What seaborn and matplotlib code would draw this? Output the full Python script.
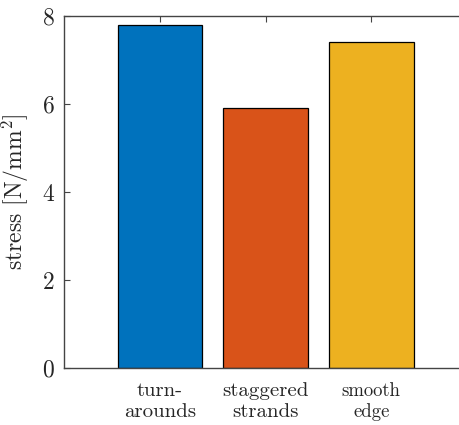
import matplotlib
matplotlib.use("Agg")
import matplotlib.pyplot as plt
import seaborn as sns
import pandas as pd

categories = ["turn-\narounds", "staggered\nstrands", "smooth\nedge"]
stress = [7.8, 5.9, 7.4]
colors = ["#0072BD", "#D95319", "#EDB120"]
yticks = [0, 2, 4, 6, 8]

df = pd.DataFrame({"category": categories, "stress": stress})

sns.set_style("white")
plt.rcParams["font.family"] = ["cmr10", "DejaVu Serif"]
plt.rcParams["mathtext.fontset"] = "cm"
plt.rcParams["axes.formatter.use_mathtext"] = True

fig = plt.figure(figsize=(4.6, 4.25), dpi=100)
ax = fig.add_axes([64 / 460, 57 / 425, 396 / 460, 352 / 425])

sns.barplot(data=df, x="category", y="stress", hue="category", palette=colors,
            width=0.8, edgecolor="black", linewidth=0.9, legend=False, ax=ax,
            saturation=1)

ax.set_ylim(0, 8)
ax.set_xlim(-0.91, 2.84)
ax.set_yticks(yticks)
ax.set_yticklabels([str(t) for t in yticks], fontsize=17)
ax.set_xticks(range(len(categories)))
ax.set_xticklabels(categories, fontsize=15, linespacing=1.25)
# the last label is set a little smaller in the original
ax.get_xticklabels()[2].set_fontsize(13.5)
ax.set_xlabel("")
ax.set_ylabel(r"stress [N/mm$^2$]", fontsize=17, labelpad=8)

for side in ["left", "bottom", "top"]:
    ax.spines[side].set_color("#444444")
    ax.spines[side].set_linewidth(1.0)
ax.spines["right"].set_visible(False)
ax.tick_params(axis="both", direction="in", length=4, color="#444444")
ax.tick_params(axis="x", top=True, bottom=True, pad=10)
ax.tick_params(axis="y", left=True, right=False, pad=7)

fig.savefig("out.png", dpi=100)
